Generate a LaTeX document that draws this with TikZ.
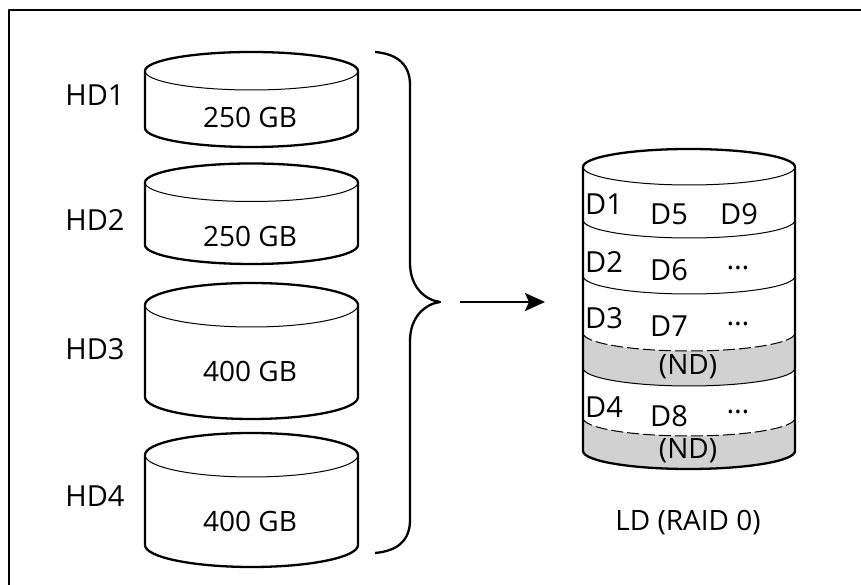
\documentclass[tikz,border=0pt]{standalone}
\usepackage{fontspec}
\setmainfont{Open Sans}
\usetikzlibrary{arrows.meta}
\newcommand{\diskcyl}[5]{%
  \draw[thickline, fill=white] (#1-#4,#2) arc[start angle=180,end angle=0,x radius=#4,y radius=#5] -- (#1+#4,#3) arc[start angle=0,end angle=-180,x radius=#4,y radius=#5] -- cycle;
  \draw[thinline] (#1-#4,#2) arc[start angle=180,end angle=360,x radius=#4,y radius=#5];
}
\begin{document}
\begin{tikzpicture}[x=1pt,y=1pt, line join=round,
  thinline/.style={line width=1pt},
  thickline/.style={line width=2.3pt},
  hdl/.style={inner sep=0pt, font=\fontsize{29}{32}\selectfont},
  caplbl/.style={inner sep=0pt, font=\fontsize{28}{30}\selectfont},
  dlbl/.style={inner sep=0pt, font=\fontsize{29}{32}\selectfont},
  band/.style={fill=black!18},
  dashline/.style={line width=1pt, dash pattern=on 12pt off 4pt}]
\useasboundingbox (0,0) rectangle (861,585);
% frame
\draw[line width=2.5pt] (9,0) -- (9,575) -- (861,575);
% left disks
\diskcyl{251.5}{514}{457}{106.5}{19}
\diskcyl{251.5}{402.5}{340}{106.5}{19}
\diskcyl{251.5}{280}{188}{106.5}{22}
\diskcyl{251.5}{130}{40}{106.5}{22}
\node[hdl] (hd1) at (95,490) {HD1};
\node[hdl] (hd2) at (95,365) {HD2};
\node[hdl] (hd3) at (95,236) {HD3};
\node[hdl] (hd4) at (95,89) {HD4};
\node[caplbl] (c1) at (250,468) {250 GB};
\node[caplbl] (c2) at (250,349) {250 GB};
\node[caplbl] (c3) at (250,214) {400 GB};
\node[caplbl] (c4) at (250,64) {400 GB};
% brace
\draw[thickline] (375,533) .. controls (398,531) and (410,520) .. (410,500) -- (410,322) .. controls (410,298) and (425,285) .. (440,283) .. controls (425,281) and (410,268) .. (410,244) -- (410,65) .. controls (410,45) and (398,34) .. (375,32);
% arrow
\coordinate (arrS) at (460,283);
\coordinate (arrE) at (545,283);
\draw[thickline, -{Stealth[length=20pt,width=18pt,inset=4pt]}] (arrS) -- (arrE);
% right logical disk
\def\cx{689}\def\rx{106}\def\ry{18}
\fill[white] (\cx-\rx,418) arc[start angle=180,end angle=0,x radius=\rx,y radius=\ry] -- (\cx+\rx,134) arc[start angle=0,end angle=-180,x radius=\rx,y radius=\ry] -- cycle;
\fill[band] (\cx-\rx,252) arc[start angle=180,end angle=360,x radius=\rx,y radius=\ry] -- (\cx+\rx,217) arc[start angle=0,end angle=-180,x radius=\rx,y radius=\ry] -- cycle;
\fill[band] (\cx-\rx,167) arc[start angle=180,end angle=360,x radius=\rx,y radius=\ry] -- (\cx+\rx,134) arc[start angle=0,end angle=-180,x radius=\rx,y radius=\ry] -- cycle;
\draw[thinline] (\cx-\rx,418) arc[start angle=180,end angle=360,x radius=\rx,y radius=\ry];
\draw[thinline] (\cx-\rx,365) arc[start angle=180,end angle=360,x radius=\rx,y radius=\ry];
\draw[thinline] (\cx-\rx,309) arc[start angle=180,end angle=360,x radius=\rx,y radius=\ry];
\draw[dashline] (\cx-\rx,252) arc[start angle=180,end angle=360,x radius=\rx,y radius=\ry];
\draw[thinline] (\cx-\rx,217) arc[start angle=180,end angle=360,x radius=\rx,y radius=\ry];
\draw[dashline] (\cx-\rx,167) arc[start angle=180,end angle=360,x radius=\rx,y radius=\ry];
\draw[thickline] (\cx-\rx,418) arc[start angle=180,end angle=0,x radius=\rx,y radius=\ry] -- (\cx+\rx,134) arc[start angle=0,end angle=-180,x radius=\rx,y radius=\ry] -- cycle;
\node[dlbl] (d1) at (604,381) {D1};
\node[dlbl] (d5) at (669,371) {D5};
\node[dlbl] (d9) at (739,371) {D9};
\node[dlbl] (d2) at (604,323) {D2};
\node[dlbl] (d6) at (669,315) {D6};
\node[dlbl] (e2) at (738,317) {…};
\node[dlbl] (d3) at (604,267) {D3};
\node[dlbl] (d7) at (669,259) {D7};
\node[dlbl] (e3) at (738,261) {…};
\node[caplbl] (nd1) at (688,218) {(ND)};
\node[dlbl] (d4) at (604,178) {D4};
\node[dlbl] (d8) at (669,169) {D8};
\node[dlbl] (e4) at (738,173) {…};
\node[caplbl] (nd2) at (688,134) {(ND)};
\node[caplbl] (ld) at (688,62) {LD (RAID 0)};
\end{tikzpicture}
\end{document}
